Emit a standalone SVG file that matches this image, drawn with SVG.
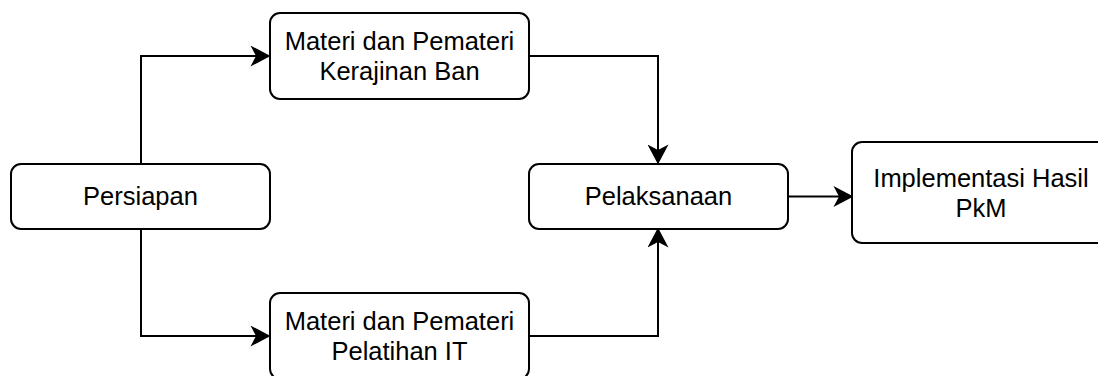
<svg xmlns="http://www.w3.org/2000/svg" width="1098" height="376" viewBox="0 0 1098 376">
  <style>
    .box { fill: #ffffff; stroke: #000000; stroke-width: 2; }
    .lbl { font-family: "Liberation Sans", Arial, Helvetica, sans-serif; font-size: 25.5px; fill: #000000; text-anchor: middle; }
    .conn { fill: none; stroke: #000000; stroke-width: 2; }
  </style>
  <defs>
    <marker id="arrow" markerUnits="userSpaceOnUse" markerWidth="20" markerHeight="21" viewBox="0 0 18 19" refX="5" refY="9.5" orient="auto">
      <path d="M18,9.5 L0,0 L5,9.5 L0,19 Z" fill="#000000"/>
    </marker>
  </defs>
  <rect width="1098" height="376" fill="#ffffff"/>
  <g id="connectors">
    <path class="conn" d="M141,164 V56 H256" marker-end="url(#arrow)"/>
    <path class="conn" d="M529,56 H658 V150" marker-end="url(#arrow)"/>
    <path class="conn" d="M141,229 V336 H256" marker-end="url(#arrow)"/>
    <path class="conn" d="M529,336 H658 V242" marker-end="url(#arrow)"/>
    <path class="conn" d="M788,196.5 H839" marker-end="url(#arrow)"/>
  </g>
  <g id="persiapan">
    <rect class="box" x="11" y="164" width="259" height="65" rx="10" ry="10"/>
    <text class="lbl" x="140.5" y="205">Persiapan</text>
  </g>
  <g id="materi-kerajinan">
    <rect class="box" x="270" y="13" width="259" height="86" rx="10" ry="10"/>
    <text class="lbl" x="399.5" y="50">Materi dan Pemateri</text>
    <text class="lbl" x="399.5" y="80">Kerajinan Ban</text>
  </g>
  <g id="materi-it">
    <rect class="box" x="270" y="293" width="259" height="86" rx="10" ry="10"/>
    <text class="lbl" x="399.5" y="330">Materi dan Pemateri</text>
    <text class="lbl" x="399.5" y="360">Pelatihan IT</text>
  </g>
  <g id="pelaksanaan">
    <rect class="box" x="529" y="164" width="259" height="65" rx="10" ry="10"/>
    <text class="lbl" x="658.5" y="205">Pelaksanaan</text>
  </g>
  <g id="implementasi">
    <rect class="box" x="852" y="142" width="258" height="101" rx="10" ry="10"/>
    <text class="lbl" x="981" y="186.5">Implementasi Hasil</text>
    <text class="lbl" x="981" y="216.5">PkM</text>
  </g>
</svg>
